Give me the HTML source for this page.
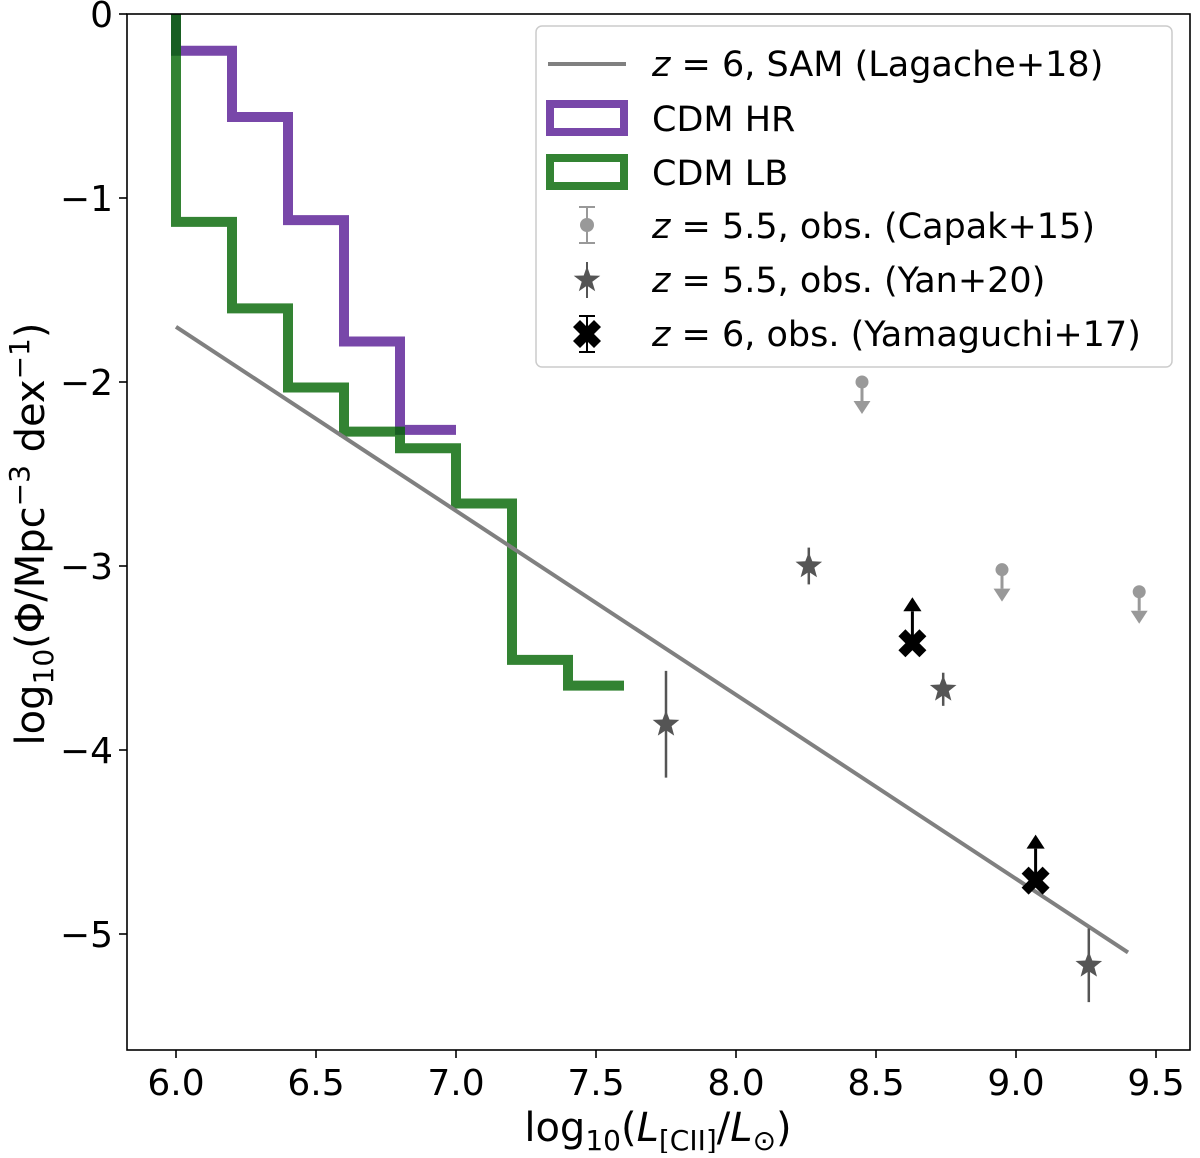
<!DOCTYPE html>
<html><head><meta charset="utf-8"><style>
body{margin:0;background:#fff}
svg text{font-family:"DejaVu Sans","Liberation Sans",sans-serif;}
</style></head><body>
<svg id="chart" width="1200" height="1153" xmlns="http://www.w3.org/2000/svg">
<g id="plot"></g>
</svg>
<script>
const hrEdges=[6.0,6.2,6.4,6.6,6.8,7.0];
const hrValues=[-0.2,-0.56,-1.12,-1.78,-2.26];
const lbEdges=[6.0,6.2,6.4,6.6,6.8,7.0,7.2,7.4,7.6];
const lbValues=[-1.13,-1.6,-2.03,-2.27,-2.36,-2.66,-3.51,-3.65];
const samX=[6.0,9.4];
const samY=[-1.70,-5.10];
const capakX=[8.45,8.95,9.44];
const capakY=[-2.0,-3.02,-3.14];
const yanX=[7.75,8.26,8.74,9.26];
const yanY=[-3.86,-3.0,-3.67,-5.17];
const yanErrUp=[0.29,0.1,0.09,0.2];
const yanErrDn=[0.29,0.1,0.09,0.2];
const yamX=[8.63,9.07];
const yamY=[-3.42,-4.71];
const xTicks=[6.0,6.5,7.0,7.5,8.0,8.5,9.0,9.5];
const xTickLabels=["6.0","6.5","7.0","7.5","8.0","8.5","9.0","9.5"];
const yTicks=[0,-1,-2,-3,-4,-5];
const yTickLabels=["0","\u22121","\u22122","\u22123","\u22124","\u22125"];

const L=127,R=1190,T=14,B=1050;
const sx=v=>176+(v-6)*280;
const sy=v=>14-v*184;
const NS="http://www.w3.org/2000/svg";
const svg=document.getElementById('chart');
function mk(tag,attrs,parent){const e=document.createElementNS(NS,tag);for(const k in attrs)e.setAttribute(k,attrs[k]);(parent||svg).appendChild(e);return e;}

const defs=mk('defs',{});
const cp=mk('clipPath',{id:'clip'},defs);
mk('rect',{x:L,y:T,width:R-L,height:B-T},cp);
const g=mk('g',{'clip-path':'url(#clip)'});

function stepPath(edges,vals){
  let d=`M${sx(edges[0])},${T-10} L${sx(edges[0])},${sy(vals[0])}`;
  for(let i=0;i<vals.length;i++){
    d+=` L${sx(edges[i+1])},${sy(vals[i])}`;
    if(i+1<vals.length)d+=` L${sx(edges[i+1])},${sy(vals[i+1])}`;
  }
  return d;
}
let p=mk('path',{d:stepPath(hrEdges,hrValues),fill:'none',stroke:'#4b0a8c','stroke-opacity':0.75,'stroke-width':10},g);


p=mk('path',{d:stepPath(lbEdges,lbValues),fill:'none',stroke:'#006400','stroke-opacity':0.8,'stroke-width':10},g);


p=mk('line',{x1:sx(samX[0]),y1:sy(samY[0]),x2:sx(samX[1]),y2:sy(samY[1]),stroke:'#808080','stroke-width':4},g);



function arrow(x,y1,y2,color,sw,head){
  mk('line',{x1:x,y1:y1,x2:x,y2:y2+(y2>y1?-head:head),stroke:color,'stroke-width':sw},g);
  const dir=y2>y1?1:-1;
  mk('polygon',{points:`${x-head*0.65},${y2-dir*head} ${x+head*0.65},${y2-dir*head} ${x},${y2}`,fill:color},g);
}
function star(cx,cy,r,color){
  let pts=[];for(let i=0;i<10;i++){const a=-Math.PI/2+i*Math.PI/5;const rr=i%2?r*0.42:r;pts.push((cx+rr*Math.cos(a)).toFixed(1)+','+(cy+rr*Math.sin(a)).toFixed(1));}
  return mk('polygon',{points:pts.join(' '),fill:color},g);
}
function xmark(cx,cy,s,w,color,par){
  const d=`M${cx-s},${cy-s+w} L${cx-s+w},${cy-s} L${cx},${cy-w} L${cx+s-w},${cy-s} L${cx+s},${cy-s+w} L${cx+w},${cy} L${cx+s},${cy+s-w} L${cx+s-w},${cy+s} L${cx},${cy+w} L${cx-s+w},${cy+s} L${cx-s},${cy+s-w} L${cx-w},${cy} Z`;
  return mk('path',{d,fill:color},par||g);
}
for(let i=0;i<capakX.length;i++){
  const x=sx(capakX[i]),y=sy(capakY[i]);
  arrow(x,y,y+32,'#999',3,13);
  const c=mk('circle',{cx:x,cy:y,r:6.5,fill:'#999'},g);
  
  
}
for(let i=0;i<yanX.length;i++){
  const x=sx(yanX[i]),y=sy(yanY[i]);
  mk('line',{x1:x,y1:sy(yanY[i]+yanErrUp[i]),x2:x,y2:sy(yanY[i]-yanErrDn[i]),stroke:'#555','stroke-width':2.5},g);
  const s=star(x,y,14,'#555');
  
  
}
for(let i=0;i<yamX.length;i++){
  const x=sx(yamX[i]),y=sy(yamY[i]);
  arrow(x,y,y-46,'#000',3,14);
  const m=xmark(x,y,14,7,'#000');
  
  
}

const fr=mk('rect',{x:L,y:T,width:R-L,height:B-T,fill:'none',stroke:'#000','stroke-width':1.6});


for(let i=0;i<xTicks.length;i++){
  const x=sx(xTicks[i]);
  mk('line',{x1:x,y1:B,x2:x,y2:B+8,stroke:'#000','stroke-width':1.6});
  const t=mk('text',{x:x,y:B+45,'font-size':36,'text-anchor':'middle'});t.textContent=xTickLabels[i];
  
  
}
for(let i=0;i<yTicks.length;i++){
  const y=sy(yTicks[i]);
  mk('line',{x1:L-8,y1:y,x2:L,y2:y,stroke:'#000','stroke-width':1.6});
  const t=mk('text',{x:L-14,y:y+13,'font-size':36,'text-anchor':'end'});t.textContent=yTickLabels[i];
  
  
}
</script>
<svg style="position:absolute;left:0;top:0" width="1200" height="1153" xmlns="http://www.w3.org/2000/svg">
<text x="658" y="1141" font-size="40" text-anchor="middle" font-family="DejaVu Sans, Liberation Sans, sans-serif">log<tspan font-size="28" dy="9">10</tspan><tspan dy="-9">(</tspan><tspan font-style="italic">L</tspan><tspan font-size="28" dy="9">[CII]</tspan><tspan dy="-9">/</tspan><tspan font-style="italic">L</tspan><tspan font-size="28" dy="9">⊙</tspan><tspan dy="-9">)</tspan></text>
<text transform="translate(44,534) rotate(-90)" font-size="40" text-anchor="middle" font-family="DejaVu Sans, Liberation Sans, sans-serif">log<tspan font-size="28" dy="9">10</tspan><tspan dy="-9">(Φ/Mpc</tspan><tspan font-size="28" dy="-15">−3</tspan><tspan dy="15"> dex</tspan><tspan font-size="28" dy="-15">−1</tspan><tspan dy="15">)</tspan></text>
<g font-family="DejaVu Sans, Liberation Sans, sans-serif" font-size="35">
<rect x="536" y="26" width="636" height="341" rx="6" fill="#fff" fill-opacity="0.8" stroke="#ccc" stroke-width="1.5"/>
<line x1="548" y1="64" x2="626" y2="64" stroke="#808080" stroke-width="4"/>
<text x="652" y="76"><tspan font-style="italic">z</tspan> = 6, SAM (Lagache+18)</text>
<rect x="550" y="104" width="74" height="28" fill="none" stroke="#4b0a8c" stroke-opacity="0.75" stroke-width="8"/>
<text x="652" y="131">CDM HR</text>
<rect x="550" y="158" width="74" height="28" fill="none" stroke="#006400" stroke-opacity="0.8" stroke-width="8"/>
<text x="652" y="185">CDM LB</text>
<line x1="587" y1="207" x2="587" y2="243" stroke="#999" stroke-width="2"/>
<line x1="579" y1="207" x2="595" y2="207" stroke="#999" stroke-width="2"/>
<line x1="579" y1="243" x2="595" y2="243" stroke="#999" stroke-width="2"/>
<circle cx="587" cy="225" r="7" fill="#999"/>
<text x="652" y="238"><tspan font-style="italic">z</tspan> = 5.5, obs. (Capak+15)</text>
<line x1="587" y1="262" x2="587" y2="298" stroke="#555" stroke-width="2"/>
<polygon points="587,266 590.3,275.5 600.3,275.7 592.3,281.8 595.2,291.3 587,285.6 578.8,291.3 581.7,281.8 573.7,275.7 583.7,275.5" fill="#555"/>
<text x="652" y="292"><tspan font-style="italic">z</tspan> = 5.5, obs. (Yan+20)</text>
<line x1="587" y1="316" x2="587" y2="352" stroke="#000" stroke-width="2"/>
<line x1="579" y1="316" x2="595" y2="316" stroke="#000" stroke-width="2"/>
<line x1="579" y1="352" x2="595" y2="352" stroke="#000" stroke-width="2"/>
<path d="M573,327 L580,320 L587,327 L594,320 L601,327 L594,334 L601,341 L594,348 L587,341 L580,348 L573,341 L580,334 Z" fill="#000"/>
<text x="652" y="346"><tspan font-style="italic">z</tspan> = 6, obs. (Yamaguchi+17)</text>
</g>
</svg>
</body></html>
